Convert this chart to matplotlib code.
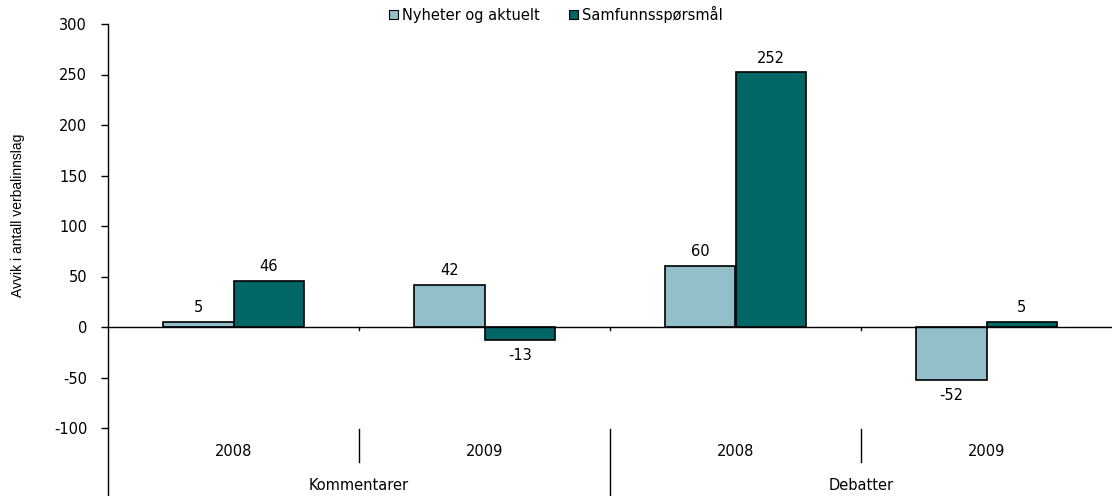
import matplotlib
matplotlib.use("Agg")
import matplotlib.pyplot as plt
from matplotlib.lines import Line2D
from matplotlib.patches import Patch
import numpy as np

plt.rcParams['font.family'] = ['DejaVu Sans']
plt.rcParams['axes.unicode_minus'] = False

years = ["2008", "2009", "2008", "2009"]
groups = ["Kommentarer", "Debatter"]
series_names = ["Nyheter og aktuelt", "Samfunnsspørsmål"]
nyheter = [5, 42, 60, -52]
samfunn = [46, -13, 252, 5]
yticks = [-100, -50, 0, 50, 100, 150, 200, 250, 300]
ylabel = "Avvik i antall verbalinnslag"

light = "#92BFCA"
dark = "#006666"
FS = 10.5

W, H = 1114, 496
fig = plt.figure(figsize=(W / 100, H / 100), dpi=100)
ax_l, ax_r, ax_t, ax_b = 108, 1112, 24, 428
ax = fig.add_axes([ax_l / W, 1 - ax_b / H, (ax_r - ax_l) / W, (ax_b - ax_t) / H])

x = np.arange(len(years))
bw = 0.28
ax.bar(x - bw / 2, nyheter, bw, color=light, edgecolor="black", linewidth=1.2, zorder=3)
ax.bar(x + bw / 2, samfunn, bw, color=dark, edgecolor="black", linewidth=1.2, zorder=3)

for xs, vals in ((x - bw / 2, nyheter), (x + bw / 2, samfunn)):
    for xi, v in zip(xs, vals):
        if v >= 0:
            ax.annotate(str(v), (xi, v), xytext=(0, 5), textcoords="offset points",
                        ha="center", va="bottom", fontsize=FS)
        else:
            ax.annotate(str(v), (xi, v), xytext=(0, -6), textcoords="offset points",
                        ha="center", va="top", fontsize=FS)

ax.set_xlim(-0.5, 3.5)
ax.set_ylim(-100, 300)
ax.set_yticks(yticks)
ax.tick_params(axis="y", labelsize=FS, length=5, width=1, direction="out", pad=10)
ax.set_xticks([])
for s in ("top", "right", "bottom"):
    ax.spines[s].set_visible(False)
ax.spines["left"].set_linewidth(1)
ax.axhline(0, color="black", linewidth=1, zorder=4)

for b in (0.5, 1.5, 2.5):
    ax.plot([b, b], [0, -3], color="black", linewidth=1, zorder=4, clip_on=False)

def fx(px):
    return px / W

def fy(py):
    return 1 - py / H

def data_to_px(xv):
    return ax_l + (xv + 0.5) / 4 * (ax_r - ax_l)

fig.add_artist(Line2D([fx(ax_l), fx(ax_l)], [fy(ax_b), fy(H)], color="black", linewidth=1))
for b in (0.5, 2.5):
    px = data_to_px(b)
    fig.add_artist(Line2D([fx(px), fx(px)], [fy(429), fy(462)], color="black", linewidth=1))
px = data_to_px(1.5)
fig.add_artist(Line2D([fx(px), fx(px)], [fy(429), fy(H)], color="black", linewidth=1))

for i, yr in enumerate(years):
    fig.text(fx(data_to_px(i)), fy(451), yr, ha="center", va="center", fontsize=FS)
for g, c in zip(groups, (0.5, 2.5)):
    fig.text(fx(data_to_px(c)), fy(485), g, ha="center", va="center", fontsize=FS)

fig.text(fx(18), fy(215), ylabel, rotation=90, ha="center", va="center", fontsize=10,
         family=['Liberation Sans Narrow', 'Liberation Sans', 'DejaVu Sans'])

handles = [Patch(facecolor=light, edgecolor="black", linewidth=0.8),
           Patch(facecolor=dark, edgecolor="black", linewidth=0.8)]
fig.legend(handles, series_names, loc="center", bbox_to_anchor=(fx(556), fy(14)),
           ncol=2, frameon=False, fontsize=FS, handlelength=0.6, handleheight=0.6,
           handletextpad=0.3, columnspacing=2.0, borderaxespad=0)

fig.savefig("out.png", dpi=100)
